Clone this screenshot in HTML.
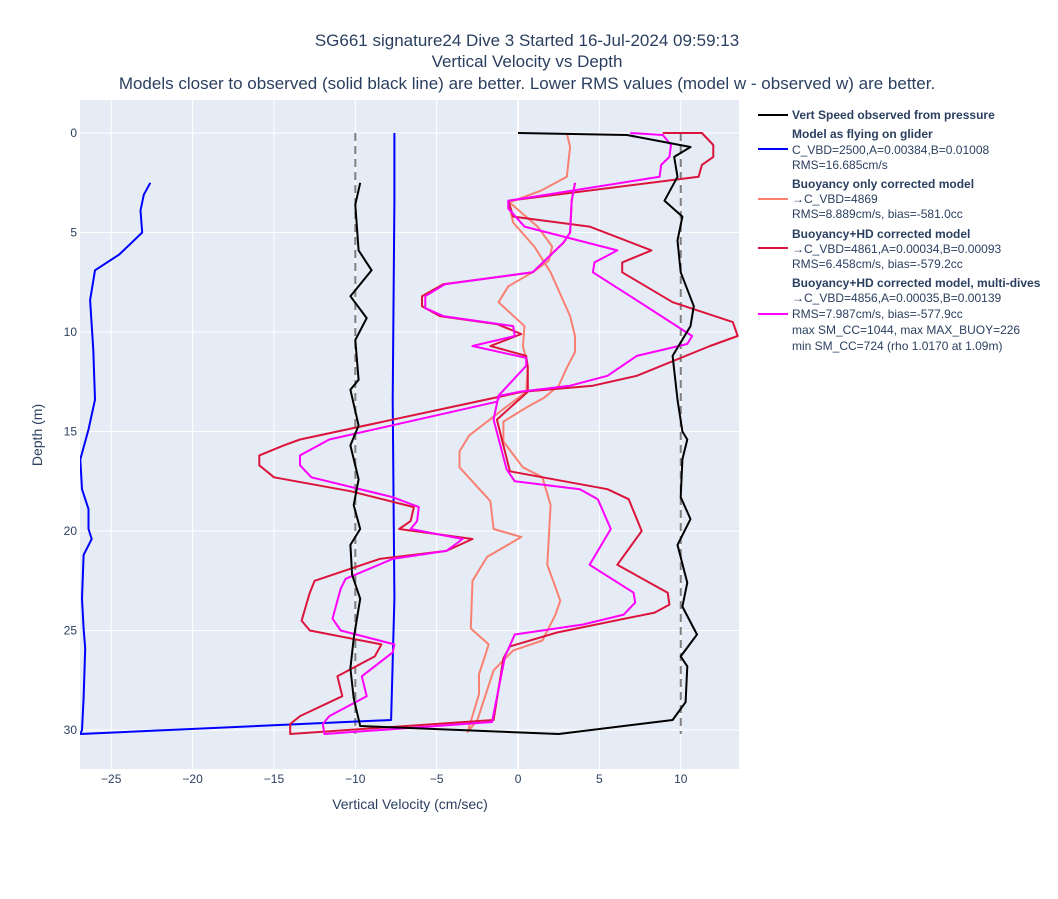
<!DOCTYPE html>
<html><head><meta charset="utf-8"><style>
body{margin:0;background:#fff;font-family:"Liberation Sans",sans-serif;}
svg text{font-family:"Liberation Sans",sans-serif;fill:#2a3f5f;}
</style></head><body>
<svg id="chart" width="1058" height="894" xmlns="http://www.w3.org/2000/svg">
<g id="titles">
<text x="527" y="46" font-size="17" text-anchor="middle">SG661 signature24 Dive 3 Started 16-Jul-2024 09:59:13</text>
<text x="527" y="67" font-size="17" text-anchor="middle">Vertical Velocity vs Depth</text>
<text x="527" y="89" font-size="17" text-anchor="middle">Models closer to observed (solid black line) are better. Lower RMS values (model w - observed w) are better.</text>
</g>
<rect x="80" y="100" width="659" height="669" fill="#e5ecf6"/>
<g id="grid"></g>
<g id="ticks"></g>
<defs><clipPath id="clip"><rect x="80" y="100" width="659" height="669"/></clipPath></defs>
<g id="series" clip-path="url(#clip)"></g>
<text x="410" y="809" font-size="14" text-anchor="middle">Vertical Velocity (cm/sec)</text>
<text x="42" y="435" font-size="14" text-anchor="middle" transform="rotate(-90 42 435)">Depth (m)</text>
<g id="legend" font-size="12">
<g><line x1="758" y1="115" x2="788" y2="115" stroke="#000" stroke-width="2"/><text x="792" y="119" font-weight="bold">Vert Speed observed from pressure</text></g>
<g><line x1="758" y1="149" x2="788" y2="149" stroke="#0000ff" stroke-width="2"/><text x="792" y="138" font-weight="bold">Model as flying on glider</text><text x="792" y="154">C_VBD=2500,A=0.00384,B=0.01008</text><text x="792" y="169">RMS=16.685cm/s</text></g>
<g><line x1="758" y1="199" x2="788" y2="199" stroke="#fa8072" stroke-width="2"/><text x="792" y="188" font-weight="bold">Buoyancy only corrected model</text><text x="792" y="203">→C_VBD=4869</text><text x="792" y="218">RMS=8.889cm/s, bias=-581.0cc</text></g>
<g><line x1="758" y1="248" x2="788" y2="248" stroke="#dc143c" stroke-width="2"/><text x="792" y="238" font-weight="bold">Buoyancy+HD corrected model</text><text x="792" y="253">→C_VBD=4861,A=0.00034,B=0.00093</text><text x="792" y="268">RMS=6.458cm/s, bias=-579.2cc</text></g>
<g><line x1="758" y1="314" x2="788" y2="314" stroke="#ff00ff" stroke-width="2"/><text x="792" y="287" font-weight="bold">Buoyancy+HD corrected model, multi-dives</text><text x="792" y="302">→C_VBD=4856,A=0.00035,B=0.00139</text><text x="792" y="318">RMS=7.987cm/s, bias=-577.9cc</text><text x="792" y="334">max SM_CC=1044, max MAX_BUOY=226</text><text x="792" y="350">min SM_CC=724 (rho 1.0170 at 1.09m)</text></g>
</g>
</svg>
<script>
const xTicks=[-25,-20,-15,-10,-5,0,5,10];
const yTicks=[0,5,10,15,20,25,30];
const refLines=[-10,10];
const obsDepth=[2.5,3.6,5.9,6.9,8.2,9.3,10.4,12.4,12.9,14.7,15.7,17.4,18.7,19.9,20.7,22.2,23.4,25.4,26.9,28.4,29.8,30.2,29.5,28.6,26.8,26.3,25.2,23.8,22.6,20.7,19.4,18.3,16.4,15.4,15,13.4,11.2,9.7,8.7,7,5.4,4.2,3.4,2.2,1.2,0.7,0.1,0];
const obsVel=[-9.7,-10,-9.8,-9,-10.3,-9.3,-10,-9.8,-10.3,-9.8,-10.3,-9.8,-10.1,-9.7,-10.3,-10.2,-9.7,-10.1,-10.3,-10.1,-9.7,2.5,9.5,10.3,10.4,10,11,10.1,10.4,9.8,10.6,10,10.1,10.4,10.1,9.8,9.5,10.6,10.8,10,9.8,10.1,9,9.8,9.6,10.6,6.7,0];
const gliderDepth=[2.5,3.1,3.9,5,6.1,6.9,8.4,10.9,13.4,14.9,16.4,17.9,18.9,19.9,20.4,21.2,23.4,24.9,25.9,28.4,30,30.2,29.5,23.4,13.4,3.4,0];
const gliderVel=[-22.6,-23,-23.2,-23.1,-24.5,-26,-26.3,-26.1,-26,-26.4,-26.9,-26.8,-26.4,-26.4,-26.2,-26.7,-26.8,-26.7,-26.6,-26.7,-26.8,-26.9,-7.8,-7.6,-7.7,-7.6,-7.6];
const buoyDepth=[3.5,4.7,5.7,6.4,7,7.7,8.5,9.7,10.7,11.7,13,14,15.2,16,16.8,18.5,19.9,20.3,21.3,22.5,24.9,25.7,27.2,28.2,30.1,29.5,27,26,25.5,24.2,23.5,21.7,18.7,17.3,16.8,15.5,14.5,13.8,13.3,12.7,11.8,11,10.2,9.2,7,5.7,4.5,3.5,2.9,2.2,0.7,0];
const buoyVel=[-0.5,1.2,2.1,1.9,0.9,-0.6,-1.2,0.4,0.3,0.6,0.5,-1.1,-3,-3.6,-3.6,-1.7,-1.5,0.2,-1.9,-2.8,-2.9,-1.8,-2.4,-2.4,-3.1,-2.5,-1.5,-0.3,1.5,2.3,2.6,1.8,2,1.5,0.3,-0.9,-0.9,0.5,1.6,2.5,3.0,3.5,3.5,3.2,2.0,1.0,-0.3,-0.6,1.4,3,3.2,3];
const hdDepth=[2.5,3.4,5,5.5,7,7.6,8.2,8.7,9.2,9.6,10.1,10.7,11.2,11.8,13,14.4,17,17.9,18.4,20,21.7,23.1,23.7,24.1,25.1,25.8,26.4,29.5,30.2,29.7,29.3,28.3,27.3,26.3,25.7,25,24.5,23.1,22.5,21.4,21,20.4,19.9,19.5,18.8,18,17.3,16.7,16.2,15.7,15.4,13,12.7,12.2,10.7,10.2,9.5,8.5,7,6.5,5.9,4.7,4.2,3.4,2.2,1.6,1.2,0.6,0,0];
const hdVel=[3.5,3.3,3.2,2.8,0.9,-4.6,-5.9,-5.9,-4.8,-1.3,0.2,-1.7,0.5,0.6,0.6,-1.3,-0.5,5.5,6.8,7.6,6.1,9.2,9.3,8.4,2.4,-0.5,-0.9,-1.5,-14,-14,-13.4,-10.8,-11.1,-8.8,-8.4,-12.8,-13.3,-12.8,-12.5,-8.5,-4.4,-2.8,-7.3,-6.6,-6.4,-10.3,-15,-15.9,-15.9,-14.4,-13.4,0.3,4.6,7.3,11.8,13.5,13.2,9.5,6.4,6.4,8.2,4.4,-0.3,-0.6,11.1,11.3,12,12,11.3,8.9];
const multiDepth=[2.5,3.4,5,5.5,7,7.6,8.2,8.8,9.2,9.7,10.2,10.7,11.3,11.7,13.2,14.4,16.9,17.5,17.9,18.4,19.9,21.7,23.1,23.6,24.2,24.7,25.2,26.3,29.6,30.2,29.7,29.3,28.3,27.3,26.1,25.7,25,24.4,22.9,22.4,21.4,21,20.4,19.9,19.5,18.8,18.3,17.3,16.7,16.2,15.4,13.5,13.2,13,12.7,12.2,11.2,10.6,10.2,8.2,7,6.5,5.9,4.7,3.8,3.4,2.2,1.6,1.2,0.6,0.1,0];
const multiVel=[3.5,3.3,3.2,2.8,0.9,-4.5,-5.7,-5.7,-4.6,-0.3,-0.2,-2.8,0.5,0.5,-1.2,-1.5,-0.7,-0.2,3.8,4.9,5.7,4.4,7.1,7.2,6.5,4,-0.2,-0.8,-1.6,-11.9,-12,-11.6,-9.3,-9.6,-7.7,-7.6,-10.9,-11.4,-10.9,-10.6,-7.7,-4.4,-3.4,-6.6,-6.2,-6.1,-7.7,-12.7,-13.4,-13.4,-11.6,-1.3,-1.1,0.1,3.2,5.5,7.3,10.4,10.7,6.9,4.6,4.7,6.1,0.4,-0.6,-0.6,8.7,8.8,9.3,9.4,8.9,6.9];

const NS="http://www.w3.org/2000/svg";
const X0=80,X1=739,Y0=100,Y1=769,XMIN=-26.92,XMAX=13.58,YMIN=-1.66,YMAX=31.96;
function xs(v){return X0+(v-XMIN)/(XMAX-XMIN)*(X1-X0);}
function ys(d){return Y0+(d-YMIN)/(YMAX-YMIN)*(Y1-Y0);}
function mk(tag,attrs,parent){const e=document.createElementNS(NS,tag);for(const k in attrs)e.setAttribute(k,attrs[k]);parent.appendChild(e);return e;}
const grid=document.getElementById('grid'),ticks=document.getElementById('ticks'),series=document.getElementById('series');
xTicks.forEach(t=>{
  const l=mk('line',{x1:xs(t),x2:xs(t),y1:Y0,y2:Y1,stroke:'#fff','stroke-width':t===0?2:1},grid);
  
  
  const tx=mk('text',{x:xs(t),y:783,'font-size':12,'text-anchor':'middle'},ticks);
  tx.textContent=(t<0?'\u2212'+Math.abs(t):String(t));
  
  
});
yTicks.forEach(t=>{
  const l=mk('line',{x1:X0,x2:X1,y1:ys(t),y2:ys(t),stroke:'#fff','stroke-width':1},grid);
  
  
  const tx=mk('text',{x:77,y:ys(t)+4,'font-size':12,'text-anchor':'end'},ticks);
  tx.textContent=String(t);
  
  
});
refLines.forEach(v=>{
  const l=mk('line',{x1:xs(v),x2:xs(v),y1:ys(0),y2:ys(30.2),stroke:'#808080','stroke-width':2,'stroke-dasharray':'8,5'},series);
  
  
});
function line(vel,dep,color,name){
  const pts=vel.map((v,i)=>xs(v).toFixed(1)+','+ys(dep[i]).toFixed(1)).join(' ');
  const p=mk('polyline',{points:pts,fill:'none',stroke:color,'stroke-width':2,'stroke-linejoin':'round'},series);
  
  
}
line(gliderVel,gliderDepth,'#0000ff','glider-model-line');
line(buoyVel,buoyDepth,'#fa8072','buoyancy-model-line');
line(hdVel,hdDepth,'#dc143c','hd-model-line');
line(multiVel,multiDepth,'#ff00ff','multidive-model-line');
line(obsVel,obsDepth,'#000000','observed-line');
</script>
</body></html>
